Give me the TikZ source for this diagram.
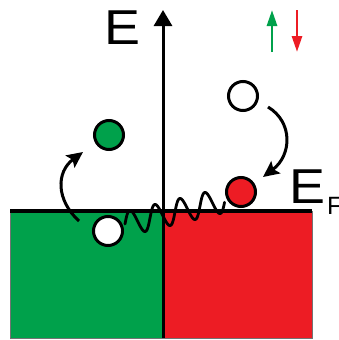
\documentclass[tikz,border=0pt]{standalone}
\usepackage{fontspec}
\setmainfont{Liberation Sans}
\usetikzlibrary{arrows.meta}
\definecolor{upgreen}{HTML}{00A14B}
\definecolor{downred}{HTML}{ED1C24}
\newcommand{\wideE}{\scalebox{1.1}[1]{\fontsize{49}{49}\selectfont E}}
\begin{document}
\begin{tikzpicture}[x=1pt,y=-1pt,
  band/.style={draw=black!55, line width=0.8pt},
  orb/.style={circle, draw=black, line width=3pt, minimum size=29pt, inner sep=0pt},
  hop/.style={line width=3pt, -{Stealth[length=16pt,width=15pt,inset=3pt]}},
  spin/.style={line width=2.8pt, -{Triangle[length=16pt,width=10pt]}},
  txt/.style={inner sep=0pt, anchor=base west},
]
\useasboundingbox (0,0) rectangle (338,340);

% spin-up and spin-down bands
\draw[band, fill=upgreen] (10,211) rectangle (163,338);
\draw[band, fill=downred] (163,211) rectangle (312,338);

% Fermi level
\coordinate (fl) at (10,211);
\coordinate (fr) at (312,211);
\draw[line width=3.5pt] (fl) -- (fr);

% spin-flip coupling (parameter counts turns of the wave)
\draw[line width=2.8pt, line join=round, line cap=round]
  plot[domain=0:3.972, samples=260, variable=\t]
  ({125+25*\t-1.5*sin(360*\t)}, {224-6*\t-12*sin(360*\t)});

% energy axis
\coordinate (axb) at (163,338);
\coordinate (axt) at (163,10);
\draw[line width=3pt, -{Triangle[length=16pt,width=18pt]}] (axb) -- (axt);
\node[txt] (elabel) at (104,44) {\wideE};

% spin legend
\coordinate (sg0) at (272,52);
\coordinate (sg1) at (272,10);
\coordinate (sr0) at (297,10);
\coordinate (sr1) at (297,52);
\draw[spin, upgreen] (sg0) -- (sg1);
\draw[spin, downred] (sr0) -- (sr1);

% electron states
\node[orb, fill=white] (exc) at (243,96) {};
\node[orb, fill=downred] (dn) at (241,192) {};
\node[orb, fill=upgreen] (up) at (109,135) {};
\node[orb, fill=white] (hole) at (108,231) {};

% transitions
\coordinate (la0) at (79,221);
\coordinate (la1) at (83,152);
\draw[hop] (la0) .. controls (56,200) and (56,172) .. (la1);
\coordinate (ra0) at (268,107);
\coordinate (ra1) at (263,177);
\draw[hop] (ra0) .. controls (293,122) and (292,155) .. (ra1);

% Fermi energy label
\node[txt] (eflabel) at (289,203)
  {\wideE\hspace{2pt}\fontsize{25}{25}\selectfont\raisebox{-11pt}{F}};
\end{tikzpicture}
\end{document}
